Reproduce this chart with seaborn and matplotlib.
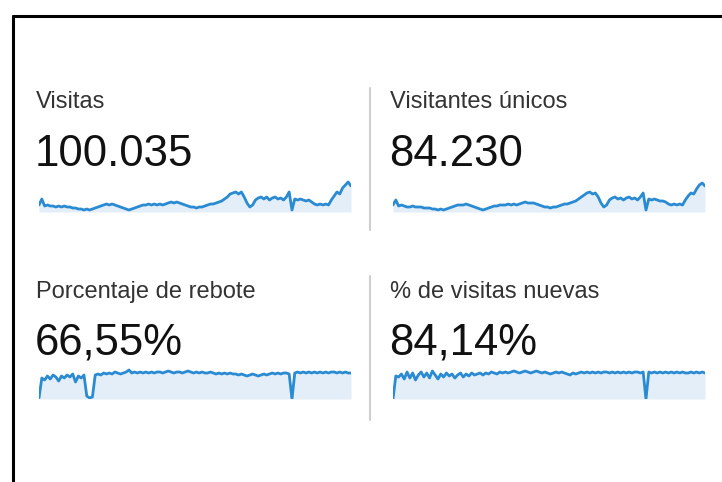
import numpy as np
import pandas as pd
import seaborn as sns
import matplotlib.pyplot as plt
from matplotlib.lines import Line2D

sns.set_theme(style="white")
plt.rcParams['font.family'] = ['Liberation Sans', 'DejaVu Sans']

# titles and totals
titles = ['Visitas', 'Visitantes únicos', 'Porcentaje de rebote', '% de visitas nuevas']
totals = ['100.035', '84.230', '66,55%', '84,14%']

# sparkline values (arbitrary units)
visitas = [7, 13, 6, 7, 6, 6, 5, 6, 5, 6,
           5, 5, 4, 4, 3, 3, 2, 3, 2, 3,
           4, 5, 6, 7, 8, 7, 8, 7, 6, 5,
           4, 3, 2, 3, 4, 5, 6, 7, 7, 8,
           7, 8, 7, 8, 7, 8, 9, 10, 9, 10,
           9, 8, 7, 6, 5, 5, 4, 5, 5, 6,
           7, 8, 8, 9, 10, 11, 13, 15, 18, 19,
           20, 18, 20, 15, 9, 5, 7, 12, 14, 15,
           13, 15, 12, 14, 15, 13, 14, 12, 15, 20,
           2, 13, 12, 13, 12, 11, 12, 10, 8, 7,
           8, 7, 8, 7, 12, 16, 20, 18, 24, 27,
           30, 26]
visitantes = [7, 12, 6, 7, 6, 5, 5, 6, 5, 5,
              5, 4, 4, 4, 3, 3, 2, 3, 2, 3,
              4, 5, 6, 7, 7, 7, 8, 7, 6, 5,
              4, 3, 2, 3, 4, 5, 6, 6, 7, 7,
              7, 8, 7, 8, 7, 8, 9, 10, 9, 9,
              9, 8, 7, 6, 5, 5, 4, 5, 5, 6,
              7, 8, 8, 9, 10, 11, 13, 15, 17, 19,
              20, 18, 19, 15, 9, 5, 7, 12, 14, 15,
              13, 14, 12, 14, 15, 13, 14, 12, 15, 19,
              2, 13, 12, 13, 12, 11, 11, 10, 8, 7,
              8, 7, 8, 7, 12, 16, 19, 18, 23, 27,
              29, 26]
rebote = [1, 21, 19, 23, 20, 24, 22, 18, 23, 21,
          24, 22, 25, 17, 23, 21, 24, 3, 1, 2,
          24, 25, 24, 26, 25, 26, 25, 27, 26, 25,
          26, 27, 29, 26, 27, 26, 27, 26, 27, 26,
          27, 26, 27, 27, 26, 27, 28, 27, 26, 27,
          27, 26, 27, 28, 27, 26, 27, 26, 27, 26,
          26, 27, 26, 25, 26, 25, 26, 25, 26, 25,
          25, 24, 25, 24, 23, 24, 25, 24, 23, 24,
          25, 24, 25, 26, 25, 26, 25, 26, 26, 25,
          0, 26, 27, 26, 27, 26, 27, 26, 27, 26,
          27, 26, 27, 26, 27, 27, 26, 27, 26, 27,
          26, 26]
nuevas = [0, 23, 22, 25, 20, 27, 21, 26, 19, 24,
          27, 22, 26, 21, 28, 24, 20, 25, 22, 26,
          23, 25, 21, 24, 26, 22, 25, 23, 26, 24,
          25, 26, 24, 26, 25, 27, 26, 25, 27, 26,
          27, 26, 27, 28, 27, 26, 27, 28, 27, 26,
          27, 28, 27, 26, 27, 26, 25, 26, 27, 26,
          27, 26, 25, 24, 26, 25, 26, 27, 26, 27,
          26, 27, 26, 27, 26, 27, 27, 26, 27, 26,
          27, 26, 27, 26, 27, 26, 27, 27, 26, 27,
          0, 27, 26, 27, 26, 27, 26, 27, 26, 27,
          26, 27, 26, 27, 26, 26, 27, 26, 27, 26,
          27, 26]
series = [visitas, visitantes, rebote, nuevas]

W, H = 722, 482
fig = plt.figure(figsize=(W / 100, H / 100), dpi=100)


def fx(x):
    return x / W


def fy(y):
    return 1 - y / H


# panel layout in pixels: (left x, label baseline, number baseline, spark top, spark bottom)
panels = [(36, 108, 166, 176, 212),
          (390, 108, 166, 176, 212),
          (36, 298, 355, 366, 399),
          (390, 298, 355, 366, 399)]

line_col = '#2a8ad2'
fill_col = '#e3eef9'

for (x0, yl, yn, top, bot), title, total, vals in zip(panels, titles, totals, series):
    fig.text(fx(x0), fy(yl), title, fontsize=17, color='#333333', va='baseline')
    fig.text(fx(x0 - 1), fy(yn), total, fontsize=31.5, color='#111111', va='baseline')
    ax = fig.add_axes([fx(x0 + 3), fy(bot), 312 / W, (bot - top) / H])
    df = pd.DataFrame({'t': np.arange(len(vals)), 'v': vals})
    ax.fill_between(df['t'], df['v'], 0, color=fill_col, linewidth=0)
    sns.lineplot(data=df, x='t', y='v', ax=ax, color=line_col, linewidth=2)
    ax.set_xlim(0, len(vals) - 1)
    ax.set_ylim(0, bot - top)
    ax.axis('off')

# separators
for y0, y1 in [(88, 230), (276, 420)]:
    fig.add_artist(Line2D([fx(370), fx(370)], [fy(y0), fy(y1)], color='#cfcfcf', lw=1.5))

# outer frame
fig.add_artist(Line2D([fx(13), fx(13)], [0, fy(16)], color='black', lw=2.2))
fig.add_artist(Line2D([fx(13), 1], [fy(16), fy(16)], color='black', lw=2.2))

fig.savefig('out.png', dpi=100)
